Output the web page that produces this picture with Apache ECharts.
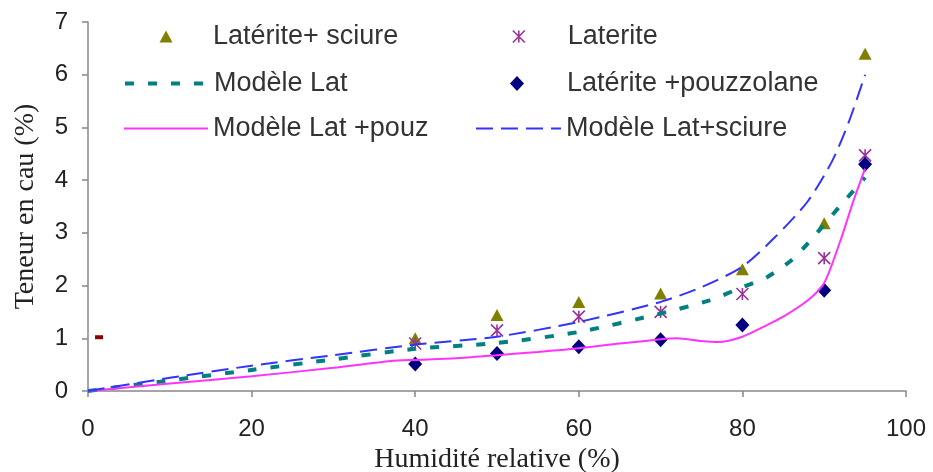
<!DOCTYPE html>
<html lang="fr">
<head>
    <meta charset="utf-8">
    <script src="https://cdn.jsdelivr.net/npm/echarts@6/dist/echarts.min.js"></script>
    <style>
        html,
        body {
            margin: 0;
            width: 100%;
            height: 100%;
            background: #fff;
            overflow: hidden;
        }

        #chart {
            width: 933px;
            height: 472px;
        }
    </style>
</head>
<body>
<div id="chart"></div>
<script>
    // points mesurés
    var humExp = [40, 50, 60, 70, 80, 90, 95];
    var latSciure = [1.0, 1.44, 1.69, 1.85, 2.31, 3.18, 6.4];
    var laterite = [0.9, 1.15, 1.41, 1.5, 1.84, 2.52, 4.47];
    var latPouz = [0.51, 0.71, 0.84, 0.97, 1.25, 1.91, 4.3];

    // modèles
    var humLat = [0, 10, 20, 30, 40, 50, 60, 70, 76, 80, 83, 86, 88, 92, 95];
    var modLat = [0, 0.2, 0.4, 0.6, 0.8, 0.91, 1.12, 1.47, 1.72, 1.97, 2.16, 2.48, 2.8, 3.52, 4.05];

    var humPouz = [0, 10, 20, 30, 37, 40, 45, 50, 55, 60, 65, 70, 72, 75, 77, 80, 83, 85, 88, 90, 92, 93.6, 95];
    var modPouz = [0, 0.14, 0.28, 0.44, 0.57, 0.59, 0.62, 0.68, 0.74, 0.81, 0.9, 0.98, 1.0, 0.95, 0.93, 1.03, 1.25, 1.41, 1.72, 2.05, 2.86, 3.62, 4.22];

    var humSciure = [0, 10, 20, 30, 40, 50, 60, 70, 75, 80, 84, 88, 91, 93, 95];
    var modSciure = [0, 0.25, 0.48, 0.68, 0.88, 1.03, 1.31, 1.69, 1.97, 2.36, 2.92, 3.6, 4.37, 5.1, 6.0];

    // point isolé près de l'axe
    var stray = [[1.35, 1.02]];

    function pairs(xs, ys) {
        return xs.map(function (x, i) { return [x, ys[i]]; });
    }

    var sans = 'Liberation Sans, Arial, sans-serif';
    var serif = 'Liberation Serif, Times New Roman, serif';
    var star = 'path://M0,0L10,10M10,0L0,10M5,0L5,10';
    var noMark = {color: 'rgba(0,0,0,0)', borderWidth: 0};

    // une légende par entrée, placée à la main
    function leg(name, left, top, w, textPad, extra) {
        var l = {
            data: [name],
            left: left,
            top: top,
            padding: 0,
            itemWidth: w,
            itemHeight: 13,
            selectedMode: false,
            textStyle: {fontSize: 27, fontFamily: sans, color: '#333', padding: [0, 0, 0, textPad]}
        };
        for (var k in extra) l[k] = extra[k];
        return l;
    }

    var chart = echarts.init(document.getElementById('chart'));
    chart.setOption({
        animation: false,
        grid: {left: 88, right: 27, top: 22, bottom: 81, containLabel: false, outerBoundsMode: 'none'},
        legend: [
            leg('Latérite+ sciure', 159.5, 23, 13, 35.5, {itemHeight: 12}),
            leg('Modèle Lat', 123, 70, 84, 0, {itemStyle: noMark, lineStyle: {color: '#008080', width: 4, type: [9, 14]}}),
            leg('Modèle Lat +pouz', 123, 115, 84, 0, {itemStyle: noMark, lineStyle: {color: '#ff33ff', width: 2}}),
            leg('Laterite', 512, 23, 12, 38, {itemHeight: 12, itemStyle: {borderColor: '#993399', borderWidth: 1.6}}),
            leg('Latérite +pouzzolane', 510, 70, 14, 38, {itemHeight: 15}),
            leg('Modèle Lat+sciure', 475, 115, 85, 0, {itemStyle: noMark, lineStyle: {color: '#3333ff', width: 2, type: [17, 8]}})
        ],
        xAxis: {
            type: 'value',
            min: 0,
            max: 100,
            interval: 20,
            name: 'Humidité relative (%)',
            nameLocation: 'middle',
            nameGap: 52,
            nameTextStyle: {fontSize: 28, fontFamily: serif, color: '#222'},
            axisLine: {lineStyle: {color: '#888', width: 1.5}},
            axisTick: {length: 6, lineStyle: {color: '#888', width: 1.5}},
            axisLabel: {fontSize: 24, fontFamily: sans, color: '#222', margin: 26},
            splitLine: {show: false}
        },
        yAxis: {
            type: 'value',
            min: 0,
            max: 7,
            interval: 1,
            name: 'Teneur en cau (%)',
            nameLocation: 'middle',
            nameGap: 48,
            nameTextStyle: {fontSize: 28, fontFamily: serif, color: '#222'},
            axisLine: {show: true, lineStyle: {color: '#888', width: 1.5}},
            axisTick: {show: true, length: 6, lineStyle: {color: '#888', width: 1.5}},
            axisLabel: {fontSize: 24, fontFamily: sans, color: '#222', margin: 20},
            splitLine: {show: false}
        },
        series: [
            {
                name: 'Modèle Lat',
                type: 'line',
                data: pairs(humLat, modLat),
                symbol: 'none',
                smooth: 0.25,
                lineStyle: {color: '#008080', width: 4, type: [9, 14]},
                itemStyle: {color: '#008080'}
            },
            {
                name: 'Modèle Lat +pouz',
                type: 'line',
                data: pairs(humPouz, modPouz),
                symbol: 'none',
                smooth: 0.25,
                lineStyle: {color: '#ff33ff', width: 2},
                itemStyle: {color: '#ff33ff'}
            },
            {
                name: 'Modèle Lat+sciure',
                type: 'line',
                data: pairs(humSciure, modSciure),
                symbol: 'none',
                smooth: 0.25,
                lineStyle: {color: '#3333ff', width: 2, type: [17, 8]},
                itemStyle: {color: '#3333ff'}
            },
            {
                name: 'Latérite+ sciure',
                type: 'scatter',
                data: pairs(humExp, latSciure),
                symbol: 'triangle',
                symbolSize: [13, 12],
                itemStyle: {color: '#808000', opacity: 1}
            },
            {
                name: 'Laterite',
                type: 'scatter',
                data: pairs(humExp, laterite),
                symbol: star,
                symbolSize: 12,
                itemStyle: {color: '#993399', borderColor: '#993399', borderWidth: 1.6, opacity: 1}
            },
            {
                name: 'Latérite +pouzzolane',
                type: 'scatter',
                data: pairs(humExp, latPouz),
                symbol: 'diamond',
                symbolSize: [14, 15],
                itemStyle: {color: '#000080', opacity: 1}
            },
            {
                name: 'stray',
                type: 'scatter',
                data: stray,
                symbol: 'rect',
                symbolSize: [8, 4],
                itemStyle: {color: '#8b0000', opacity: 1}
            }
        ]
    });
</script>
</body>
</html>
